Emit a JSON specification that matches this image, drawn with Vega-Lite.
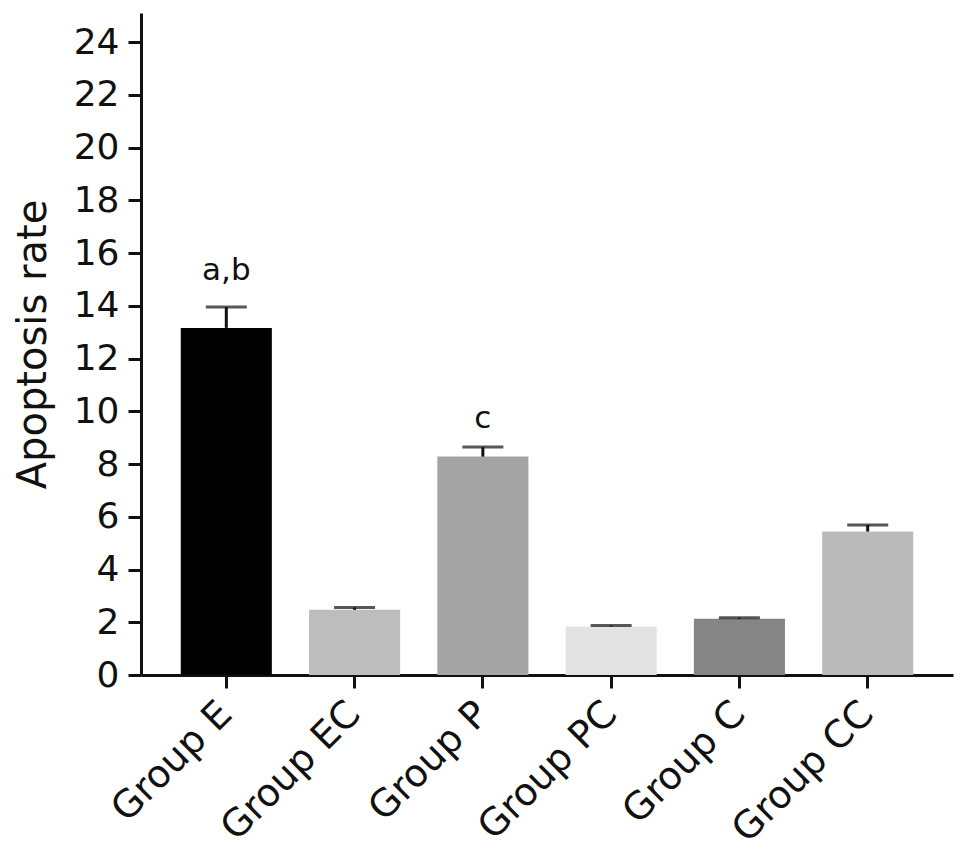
{
  "$schema": "https://vega.github.io/schema/vega-lite/v6.json",
  "autosize": "none",
  "width": 812,
  "height": 662,
  "padding": {"left": 141, "top": 13, "right": 16, "bottom": 187},
  "background": "white",
  "config": {
    "view": {"stroke": null},
    "font": "DejaVu Sans"
  },
  "data": {
    "values": [
      {"group": "Group E", "rate": 13.16, "upper": 13.95, "label": "a,b", "labelY": 15.3, "color": "#000000"},
      {"group": "Group EC", "rate": 2.47, "upper": 2.56, "label": "", "labelY": 0, "color": "#bdbdbd"},
      {"group": "Group P", "rate": 8.28, "upper": 8.64, "label": "c", "labelY": 9.72, "color": "#a4a4a4"},
      {"group": "Group PC", "rate": 1.84, "upper": 1.88, "label": "", "labelY": 0, "color": "#e3e3e3"},
      {"group": "Group C", "rate": 2.13, "upper": 2.17, "label": "", "labelY": 0, "color": "#858585"},
      {"group": "Group CC", "rate": 5.44, "upper": 5.69, "label": "", "labelY": 0, "color": "#bbbbbb"}
    ]
  },
  "encoding": {
    "x": {
      "field": "group",
      "type": "nominal",
      "sort": null,
      "scale": {"paddingInner": 0.29, "paddingOuter": 0.31},
      "axis": {
        "title": null,
        "labelAngle": -45,
        "labelAlign": "right",
        "labelBaseline": "middle",
        "labelFontSize": 38,
        "labelLimit": 0,
        "labelColor": "#111111",
        "labelPadding": 20,
        "tickSize": 13,
        "tickWidth": 3,
        "tickColor": "#111111",
        "domainWidth": 3,
        "domainColor": "#111111",
        "grid": false
      }
    }
  },
  "layer": [
    {
      "mark": {"type": "bar"},
      "encoding": {
        "y": {
          "field": "rate",
          "type": "quantitative",
          "scale": {"domain": [0, 25.1], "nice": false},
          "axis": {
            "title": "Apoptosis rate",
            "titleFontSize": 40,
            "titleFontWeight": "normal",
            "titleColor": "#111111",
            "titlePadding": 20,
            "values": [0, 2, 4, 6, 8, 10, 12, 14, 16, 18, 20, 22, 24],
            "labelFontSize": 36,
            "labelColor": "#111111",
            "labelPadding": 9,
            "tickSize": 13,
            "tickWidth": 3,
            "tickColor": "#111111",
            "domainWidth": 3,
            "domainColor": "#111111",
            "grid": false
          }
        },
        "color": {"field": "color", "type": "nominal", "scale": null, "legend": null}
      }
    },
    {
      "mark": {"type": "rule", "strokeWidth": 3, "color": "#111111"},
      "encoding": {
        "y": {"field": "rate", "type": "quantitative"},
        "y2": {"field": "upper"}
      }
    },
    {
      "mark": {"type": "tick", "orient": "horizontal", "size": 41, "thickness": 3, "color": "#111111"},
      "encoding": {
        "y": {"field": "upper", "type": "quantitative"}
      }
    },
    {
      "transform": [{"filter": "datum.label != ''"}],
      "mark": {"type": "text", "fontSize": 31, "baseline": "middle", "align": "center", "color": "#111111"},
      "encoding": {
        "y": {"field": "labelY", "type": "quantitative"},
        "text": {"field": "label"}
      }
    }
  ]
}
